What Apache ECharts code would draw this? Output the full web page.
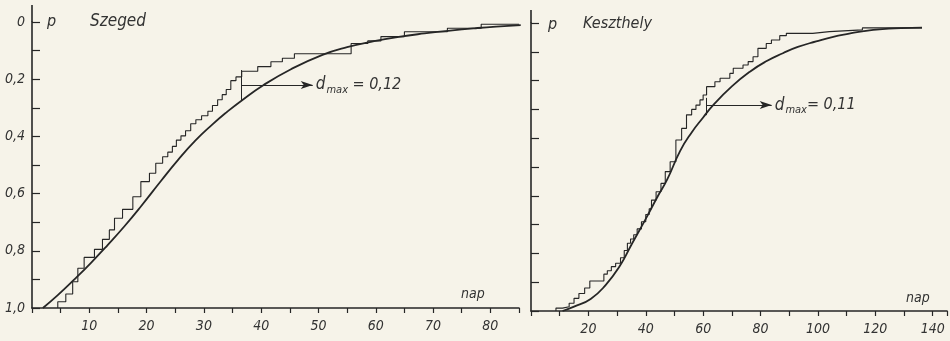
<!DOCTYPE html>
<html>
<head>
<meta charset="utf-8">
<script src="https://cdn.jsdelivr.net/npm/echarts@6/dist/echarts.min.js"></script>
<style>
html, body { margin: 0; padding: 0; background: #f6f3e9; }
#chart { width: 950px; height: 341px; }
</style>
</head>
<body>
<div id="chart"></div>
<script>
// lépcsős (empirikus) eloszlás: [nap, p] -- p az ugrás utáni szint
const szegedSteps = [
    [4.5, 1.0], [4.5, 0.978], [5.9, 0.951], [7.1, 0.908], [8.0, 0.861], [9.1, 0.823],
    [10.9, 0.795], [12.3, 0.760], [13.5, 0.727], [14.4, 0.686], [15.8, 0.655], [17.6, 0.611],
    [19.0, 0.558], [20.5, 0.529], [21.6, 0.494], [22.8, 0.471], [23.7, 0.455], [24.5, 0.435],
    [25.2, 0.413], [26.0, 0.398], [26.8, 0.380], [27.7, 0.356], [28.6, 0.342], [29.6, 0.328],
    [30.7, 0.312], [31.5, 0.292], [32.4, 0.272], [33.2, 0.254], [33.9, 0.236], [34.7, 0.205],
    [35.6, 0.192], [36.6, 0.172], [39.4, 0.156], [41.7, 0.139], [43.7, 0.127], [45.8, 0.111],
    [55.7, 0.075], [58.6, 0.066], [60.9, 0.051], [65.0, 0.034], [72.5, 0.022], [78.4, 0.008],
    [85.0, 0.008]
];
const szegedCurve = [
    [1.9, 1.0], [4.5, 0.955], [7.4, 0.900], [10.3, 0.842], [13.2, 0.780], [16.1, 0.715],
    [19.0, 0.645], [22.5, 0.556], [25.5, 0.482], [28.5, 0.415], [31.5, 0.358], [34.0, 0.315],
    [36.5, 0.276], [40.3, 0.222], [45.2, 0.165], [50.7, 0.115], [55.0, 0.088], [59.7, 0.067],
    [64.0, 0.052], [68.5, 0.040], [73.0, 0.030], [77.2, 0.022], [81.0, 0.016], [85.3, 0.011]
];
const keszthelySteps = [
    [8.7, 1.0], [8.7, 0.99], [11.0, 0.985], [13.3, 0.973], [15.0, 0.956], [16.7, 0.939],
    [18.7, 0.92], [20.5, 0.896], [25.4, 0.872], [26.6, 0.86], [28.0, 0.846], [29.5, 0.834],
    [31.2, 0.815], [32.5, 0.79], [33.6, 0.765], [34.7, 0.75], [35.8, 0.735], [37.0, 0.715],
    [38.5, 0.69], [40.0, 0.665], [41.2, 0.645], [42.0, 0.615], [43.6, 0.586], [45.3, 0.557],
    [46.8, 0.516], [48.5, 0.482], [50.5, 0.406], [52.5, 0.366], [54.2, 0.319], [56.0, 0.30],
    [57.5, 0.285], [58.9, 0.267], [60.0, 0.25], [61.2, 0.221], [64.1, 0.204], [65.9, 0.192],
    [69.3, 0.175], [70.5, 0.157], [73.9, 0.146], [75.7, 0.134], [77.4, 0.117], [79.1, 0.088],
    [82.0, 0.071], [83.8, 0.059], [86.7, 0.044], [89.0, 0.036], [98.2, 0.030], [104.0, 0.024],
    [115.5, 0.017], [136.3, 0.017]
];
const keszthelyCurve = [
    [11.0, 1.0], [15.0, 0.985], [20.8, 0.958], [26.0, 0.91], [31.0, 0.843], [35.0, 0.77],
    [40.0, 0.68], [44.0, 0.605], [47.4, 0.545], [52.0, 0.444], [56.0, 0.38], [60.0, 0.328],
    [63.5, 0.285], [70.0, 0.22], [76.3, 0.169], [82.0, 0.133], [87.8, 0.105], [93.0, 0.083],
    [99.4, 0.064], [105.0, 0.049], [110.9, 0.037], [116.0, 0.028], [122.5, 0.021], [129.0, 0.018],
    [136.3, 0.016]
];
// d_max jelölések: [x, p tól, p ig, nyíl p, nyíl vége x]
const szegedDmax = [36.6, 0.168, 0.275, 0.22, 49.0];
const keszthelyDmax = [61.0, 0.26, 0.32, 0.285, 83.9];
const dmaxValues = ['0,12', '0,11'];
const panelTitles = ['Szeged', 'Keszthely'];

const ink = '#262626';
const font = "'DejaVu Sans Condensed', 'Liberation Sans Narrow', 'DejaVu Sans', sans-serif";

var chart = echarts.init(document.getElementById('chart'));

function xAxis(idx, max, interval, labelStep) {
    return {
        type: 'value', gridIndex: idx, min: 0, max: max, interval: interval,
        axisLine: { onZero: false, lineStyle: { color: ink, width: 1.6 } },
        axisTick: { length: 5, lineStyle: { color: ink, width: 1.2 } },
        axisLabel: {
            margin: 11, color: '#333', fontSize: 14, fontStyle: 'italic', fontFamily: font,
            formatter: function (v) { return (v > 0 && v % labelStep === 0) ? String(v) : ''; }
        },
        splitLine: { show: false }
    };
}

function yAxis(idx, showLabels) {
    return {
        type: 'value', gridIndex: idx, min: 0, max: 1, interval: 0.1, inverse: true,
        axisLine: { lineStyle: { color: ink, width: 1.6 } },
        axisTick: { inside: true, length: 8, lineStyle: { color: ink, width: 1.2 } },
        axisLabel: {
            show: showLabels, margin: 7, color: '#333', fontSize: 14, fontStyle: 'italic', fontFamily: font,
            formatter: function (v) {
                var k = Math.round(v * 10);
                if (k % 2) return '';
                return k === 0 ? '0' : (k / 10).toFixed(1).replace('.', ',');
            }
        },
        splitLine: { show: false }
    };
}

function dmaxMark(d, text) {
    return {
        silent: true,
        symbol: 'none',
        lineStyle: { color: ink, width: 1, type: 'solid' },
        label: { show: false },
        data: [
            [{ coord: [d[0], d[1]] }, { coord: [d[0], d[2]] }],
            [
                { coord: [d[0], d[3]], symbol: 'none' },
                {
                    coord: [d[4], d[3]], symbol: 'arrow', symbolSize: [6, 12],
                    label: {
                        show: true, position: 'end', distance: 3,
                        formatter: text,
                        rich: {
                            d: { fontSize: 17, fontStyle: 'italic', fontFamily: font, color: '#333' },
                            s: { fontSize: 11, fontStyle: 'italic', fontFamily: font, color: '#333', padding: [11, 0, 0, 1] },
                            t: { fontSize: 16, fontStyle: 'italic', fontFamily: font, color: '#333' }
                        }
                    }
                }
            ]
        ]
    };
}

function stepSeries(idx, data, mark) {
    return {
        type: 'line', xAxisIndex: idx, yAxisIndex: idx, data: data, step: 'end',
        showSymbol: false, lineStyle: { color: ink, width: 1.1 }, markLine: mark
    };
}

function curveSeries(idx, data) {
    return {
        type: 'line', xAxisIndex: idx, yAxisIndex: idx, data: data, smooth: true,
        showSymbol: false, lineStyle: { color: ink, width: 1.8 }
    };
}

var option = {
    backgroundColor: '#f6f3e9',
    animation: false,
    grid: [
        { left: 32, top: 22, width: 487, height: 286 },
        { left: 531, top: 23, width: 418, height: 288 }
    ],
    xAxis: [xAxis(0, 85, 5, 10), xAxis(1, 145, 10, 20)],
    yAxis: [yAxis(0, true), yAxis(1, false)],
    series: [
        stepSeries(0, szegedSteps, dmaxMark(szegedDmax, '{d|d}{s|max}{t| = ' + dmaxValues[0] + '}')),
        curveSeries(0, szegedCurve),
        stepSeries(1, keszthelySteps, dmaxMark(keszthelyDmax, '{d|d}{s|max}{t|= ' + dmaxValues[1] + '}')),
        curveSeries(1, keszthelyCurve)
    ]
};
chart.setOption(option);

// tengelyek felső túlnyúlása, feliratok
var top0 = chart.convertToPixel({ gridIndex: 0 }, [0, 0]);
var top1 = chart.convertToPixel({ gridIndex: 1 }, [0, 0]);
function label(text, x, y, size) {
    return { type: 'text', x: x, y: y, style: { text: text, font: 'italic ' + size + 'px ' + font, fill: '#333' } };
}
chart.setOption({
    graphic: [
        { type: 'line', shape: { x1: top0[0], y1: top0[1] - 17, x2: top0[0], y2: top0[1] }, style: { stroke: ink, lineWidth: 1.6 } },
        { type: 'line', shape: { x1: top1[0], y1: top1[1] - 13, x2: top1[0], y2: top1[1] }, style: { stroke: ink, lineWidth: 1.6 } },
        label(panelTitles[0], 90, 13, 17),
        label(panelTitles[1], 583, 16, 16),
        label('p', 47, 14, 16),
        label('p', 548, 17, 16),
        label('nap', 461, 287, 14),
        label('nap', 906, 291, 14)
    ]
});
</script>
</body>
</html>
